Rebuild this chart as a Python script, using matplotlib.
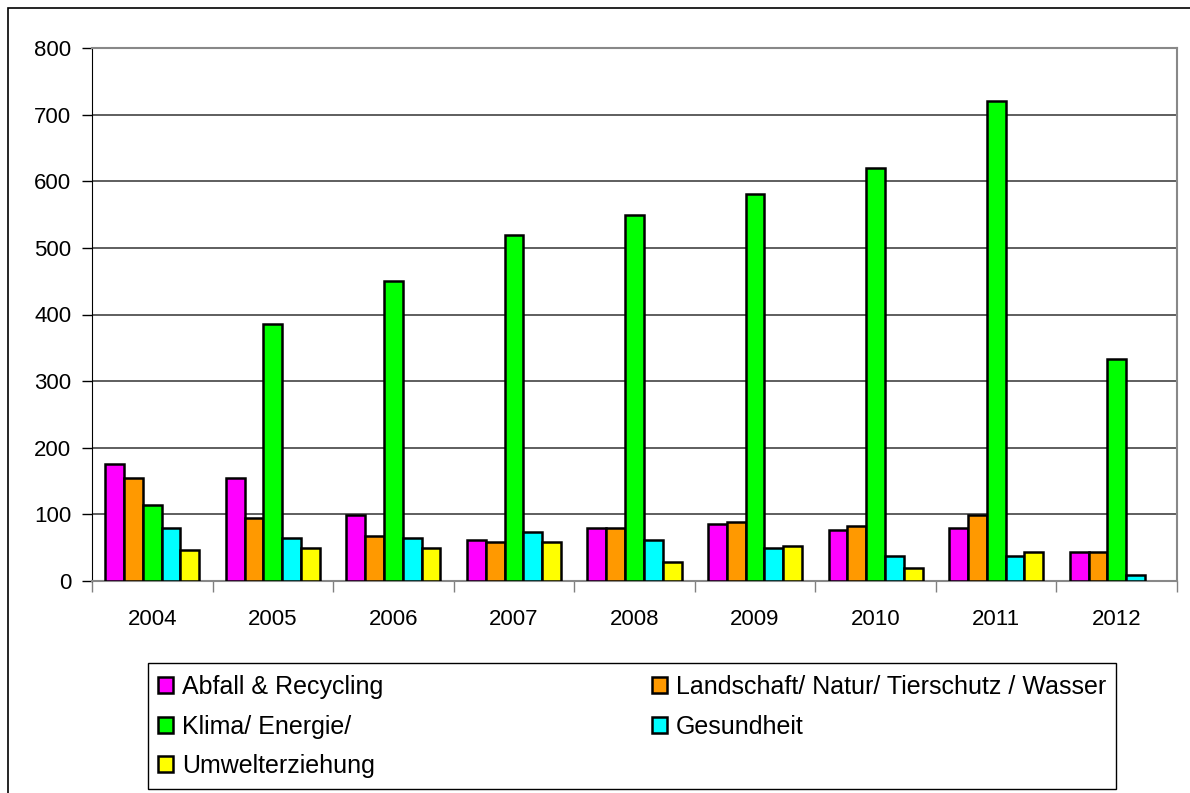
import numpy as np
import matplotlib
matplotlib.use("Agg")
import matplotlib.pyplot as plt
from matplotlib.patches import Rectangle

years = ["2004", "2005", "2006", "2007", "2008", "2009", "2010", "2011", "2012"]

abfall = [176, 155, 99, 62, 79, 85, 76, 79, 44]
landschaft = [155, 94, 68, 58, 79, 88, 82, 99, 44]
klima = [114, 385, 450, 520, 549, 581, 620, 721, 333]
gesundheit = [79, 65, 65, 73, 62, 50, 38, 38, 9]
umwelt = [47, 50, 50, 58, 29, 52, 20, 44, 0]

series = [
    ("Abfall & Recycling", abfall, "#ff00ff"),
    ("Landschaft/ Natur/ Tierschutz / Wasser", landschaft, "#ff9900"),
    ("Klima/ Energie/", klima, "#00ff00"),
    ("Gesundheit", gesundheit, "#00ffff"),
    ("Umwelterziehung", umwelt, "#ffff00"),
]

plt.rcParams["font.family"] = ["Liberation Sans", "DejaVu Sans"]

W, H = 1190, 793
fig = plt.figure(figsize=(W / 100, H / 100), dpi=100)

# outer chart frame (only left and top edges fall inside the image)
fig.patches.append(Rectangle((8 / W, -0.1), 1.2, 1.1 - 8 / H, transform=fig.transFigure,
                             fill=False, edgecolor="black", linewidth=1.2))

ax = fig.add_axes([92 / W, 1 - 581 / H, (1177 - 92) / W, (581 - 48) / H])

x = np.arange(len(years))
n = len(series)
bw = 0.156
handles = {}
for i, (name, vals, col) in enumerate(series):
    offs = (i - (n - 1) / 2) * bw
    vals = np.array(vals, dtype=float)
    keep = vals > 0
    b = ax.bar(x[keep] + offs, vals[keep], width=bw, color=col,
               edgecolor="black", linewidth=1.8, zorder=3)
    handles[name] = b

ax.set_xlim(-0.5, len(years) - 0.5)
ax.set_ylim(0, 800)
ax.set_yticks(range(0, 801, 100))
ax.set_xticks(x)
ax.set_xticklabels(years)
ax.set_xticks(np.arange(-0.5, len(years)), minor=True)
ax.tick_params(axis="x", which="major", length=0, labelsize=16, pad=20)
ax.tick_params(axis="x", which="minor", length=8, width=1, color="#808080")
ax.tick_params(axis="y", length=7, width=1, labelsize=16, pad=8)
ax.yaxis.grid(True, color="#333333", linewidth=1.1, zorder=0)
ax.set_axisbelow(True)

for side in ("top", "right"):
    ax.spines[side].set_color("#888888")
    ax.spines[side].set_linewidth(1.5)
ax.spines["left"].set_color("black")
ax.spines["bottom"].set_color("#888888")
ax.spines["bottom"].set_linewidth(1.5)

# legend box drawn on its own so the entries can sit lower inside it
lx0, ly0, lx1, ly1 = 148, 663, 1116, 789
fig.patches.append(Rectangle((lx0 / W, 1 - ly1 / H), (lx1 - lx0) / W, (ly1 - ly0) / H,
                             transform=fig.transFigure, fill=False,
                             edgecolor="black", linewidth=1.0))

order = ["Abfall & Recycling", "Klima/ Energie/", "Umwelterziehung",
         "Landschaft/ Natur/ Tierschutz / Wasser", "Gesundheit"]
leg = fig.legend([handles[k] for k in order], order, ncol=2,
                 loc="upper left", mode="expand",
                 bbox_to_anchor=(lx0 / W, 1 - (ly0 + 10) / H, (lx1 - lx0) / W, 0.01),
                 fontsize=18, frameon=False,
                 handlelength=0.6, handleheight=0.6,
                 handletextpad=0.35, labelspacing=0.62, borderpad=0.4,
                 borderaxespad=0)

fig.savefig("out.png", dpi=100)
